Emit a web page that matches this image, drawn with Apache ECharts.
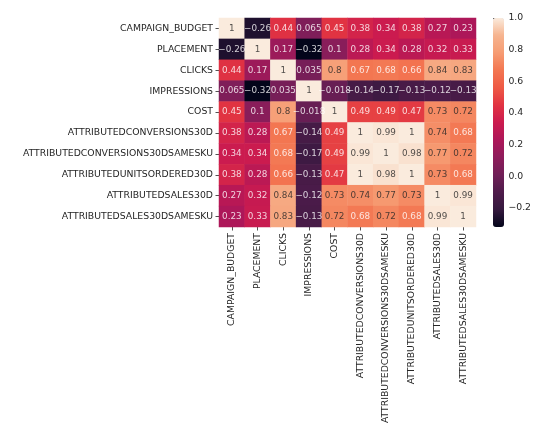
<!DOCTYPE html>
<html>
<head>
<meta charset="utf-8">
<script src="https://cdn.jsdelivr.net/npm/echarts@6/dist/echarts.min.js"></script>
<style>
  html, body { margin: 0; padding: 0; background: #fff; }
  #main { width: 534px; height: 429px; }
</style>
</head>
<body>
<div id="main"></div>
<script>
// 变量名 (same order on both axes)
const columns = [
  'CAMPAIGN_BUDGET', 'PLACEMENT', 'CLICKS', 'IMPRESSIONS', 'COST',
  'ATTRIBUTEDCONVERSIONS30D', 'ATTRIBUTEDCONVERSIONS30DSAMESKU',
  'ATTRIBUTEDUNITSORDERED30D', 'ATTRIBUTEDSALES30D', 'ATTRIBUTEDSALES30DSAMESKU'
]

// correlation rows, top to bottom
const rowBudget      = [1, -0.26, 0.44, 0.065, 0.45, 0.38, 0.34, 0.38, 0.27, 0.23]
const rowPlacement   = [-0.26, 1, 0.17, -0.32, 0.1, 0.28, 0.34, 0.28, 0.32, 0.33]
const rowClicks      = [0.44, 0.17, 1, 0.035, 0.8, 0.67, 0.68, 0.66, 0.84, 0.83]
const rowImpressions = [0.065, -0.32, 0.035, 1, -0.018, -0.14, -0.17, -0.13, -0.12, -0.13]
const rowCost        = [0.45, 0.1, 0.8, -0.018, 1, 0.49, 0.49, 0.47, 0.73, 0.72]
const rowConv        = [0.38, 0.28, 0.67, -0.14, 0.49, 1, 0.99, 1, 0.74, 0.68]
const rowConvSku     = [0.34, 0.34, 0.68, -0.17, 0.49, 0.99, 1, 0.98, 0.77, 0.72]
const rowUnits       = [0.38, 0.28, 0.66, -0.13, 0.47, 1, 0.98, 1, 0.73, 0.68]
const rowSales       = [0.27, 0.32, 0.84, -0.12, 0.73, 0.74, 0.77, 0.73, 1, 0.99]
const rowSalesSku    = [0.23, 0.33, 0.83, -0.13, 0.72, 0.68, 0.72, 0.68, 0.99, 1]

const colorbarTicks = [-0.2, 0, 0.2, 0.4, 0.6, 0.8, 1.0]
const colorMin = -0.32
const colorMax = 1

// seaborn rocket, low -> high
const rocket = [
  '#03051a', '#35193e', '#4f1c4b', '#701f57', '#8e1c5b', '#ad1759', '#cb1b4f',
  '#e13342', '#ee5a45', '#f37651', '#f69c73', '#f6b48f', '#faebdd'
]

const rows = [rowBudget, rowPlacement, rowClicks, rowImpressions, rowCost,
  rowConv, rowConvSku, rowUnits, rowSales, rowSalesSku]

const heatData = []
const labelData = []
rows.forEach((row, i) => {
  row.forEach((v, j) => {
    heatData.push([j, i, v])
    // 注释文字: 亮色格子用深色字
    labelData.push({
      value: [j, i, v],
      label: { color: v > 0.7 ? '#262626' : '#ffffff' }
    })
  })
})

const fontFamily = 'DejaVu Sans'
const textColor = '#262626'
const fs = 9.3
const annotFs = 8.8

const myChart = echarts.init(document.getElementById('main'))
const option = {
  backgroundColor: '#fff',
  animation: false,
  grid: [
    { left: 219, top: 18, width: 257, height: 209 },
    { left: 493, top: 18, width: 11, height: 209 }
  ],
  xAxis: [
    {
      type: 'category',
      gridIndex: 0,
      data: columns,
      position: 'bottom',
      axisLine: { show: false },
      axisTick: { show: true, alignWithLabel: true, length: 3.5, lineStyle: { color: textColor, width: 0.8 } },
      axisLabel: { rotate: 90, interval: 0, margin: 6, fontSize: fs, fontFamily: fontFamily, color: textColor },
      splitLine: { show: false }
    },
    { type: 'value', gridIndex: 1, show: false, min: 0, max: 1 }
  ],
  yAxis: [
    {
      type: 'category',
      gridIndex: 0,
      data: columns,
      inverse: true,
      axisLine: { show: false },
      axisTick: { show: true, alignWithLabel: true, length: 3.5, lineStyle: { color: textColor, width: 0.8 } },
      axisLabel: { interval: 0, margin: 6, fontSize: fs, fontFamily: fontFamily, color: textColor },
      splitLine: { show: false }
    },
    {
      type: 'value',
      gridIndex: 1,
      position: 'right',
      min: colorMin,
      max: colorMax,
      axisLine: { show: false },
      splitLine: { show: false },
      axisTick: { show: true, length: 3.5, customValues: colorbarTicks, lineStyle: { color: textColor, width: 0.8 } },
      axisLabel: {
        margin: 5,
        fontSize: fs,
        fontFamily: fontFamily,
        color: textColor,
        customValues: colorbarTicks,
        formatter: v => v.toFixed(1).replace('-', '\u2212')
      }
    }
  ],
  visualMap: {
    type: 'continuous',
    seriesIndex: 0,
    min: colorMin,
    max: colorMax,
    calculable: false,
    hoverLink: false,
    text: null,
    showLabel: false,
    padding: 0,
    left: 493,
    top: 18,
    itemWidth: 11,
    itemHeight: 209,
    inRange: { color: rocket }
  },
  series: [
    {
      type: 'heatmap',
      xAxisIndex: 0,
      yAxisIndex: 0,
      data: heatData,
      label: { show: false },
      emphasis: { disabled: true }
    },
    {
      // labels on top so long numbers are not covered by the next cell
      type: 'scatter',
      xAxisIndex: 0,
      yAxisIndex: 0,
      z: 5,
      silent: true,
      symbolSize: 0,
      data: labelData,
      label: {
        show: true,
        position: 'inside',
        overflow: 'none',
        fontSize: annotFs,
        fontFamily: fontFamily,
        formatter: p => String(p.value[2]).replace('-', '\u2212')
      }
    }
  ]
}
myChart.setOption(option)
</script>
</body>
</html>
